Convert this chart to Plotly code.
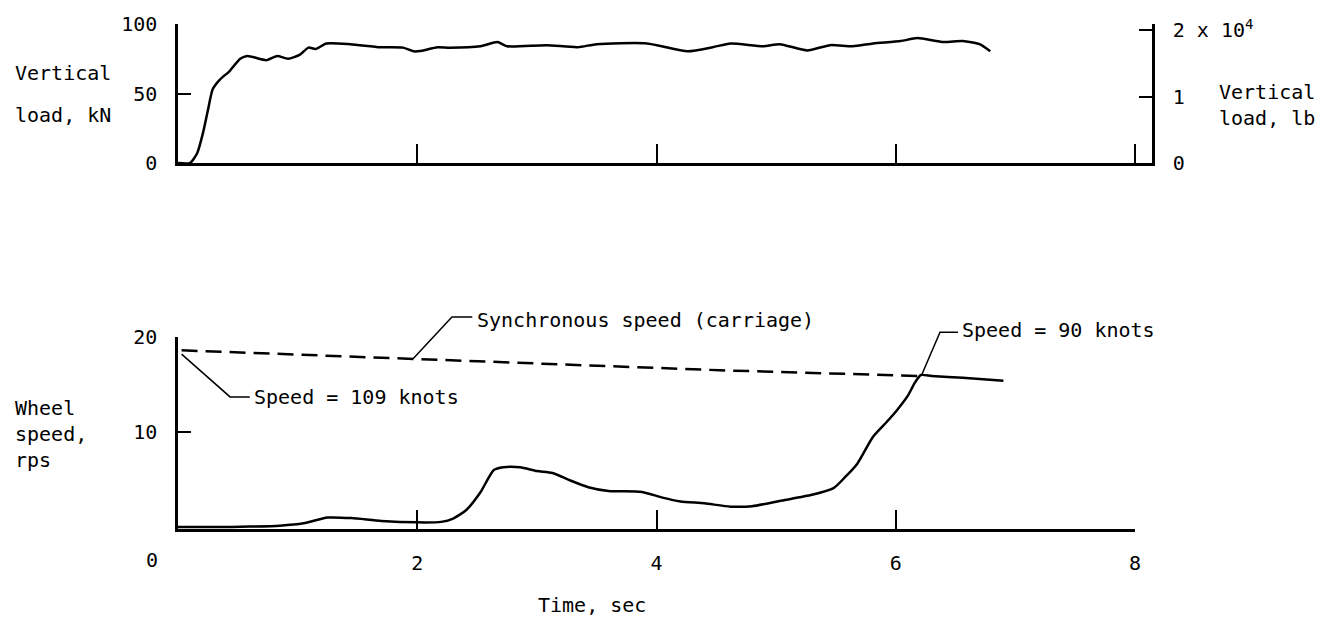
import plotly.graph_objects as go

# the page adds an 8px body margin, so the figure is drawn 8px in from the window edge
WIN_W, WIN_H, OFF = 1328, 627, 8
W, H = WIN_W - 2 * OFF, WIN_H - 2 * OFF
FONT = dict(family="DejaVu Sans Mono", size=20, color="black")

# Vertical load trace (top panel), time in sec, load in kN
load_t = [0, 0.1, 0.16, 0.21, 0.25, 0.29, 0.35, 0.43, 0.52, 0.58, 0.74, 0.83, 0.92,
          1.02, 1.09, 1.15, 1.24, 1.44, 1.69, 1.88, 1.97, 2.02, 2.17, 2.27, 2.53,
          2.67, 2.75, 3.08, 3.34, 3.5, 3.92, 4.26, 4.47, 4.62, 4.89, 5.03, 5.26,
          5.45, 5.64, 5.81, 6.04, 6.18, 6.4, 6.56, 6.7, 6.79]
load_kn = [0, 0, 7, 22, 38, 53, 60, 66, 75, 77, 74, 77, 75,
           78, 83, 82, 86, 85.5, 83.3, 83, 80.4, 80.5, 83.3, 83, 84,
           87, 84, 84.8, 83.3, 85.5, 86, 80.4, 83.3, 86, 84, 85.5, 81,
           84.8, 84, 86, 87.7, 89.9, 87, 87.7, 85.5, 80.4]

# Wheel speed trace (bottom panel), rps
wheel_t = [0, 0.3, 0.6, 0.85, 1.05, 1.25, 1.45, 1.7, 2.0, 2.2, 2.3, 2.41, 2.53,
           2.64, 2.72, 2.86, 3.0, 3.13, 3.28, 3.43, 3.6, 3.88, 4.05, 4.2, 4.4,
           4.62, 4.8, 5.05, 5.3, 5.48, 5.58, 5.68, 5.81, 5.92, 6.01, 6.1, 6.16,
           6.21, 6.3, 6.56, 6.9]
wheel_rps = [0, 0, 0.05, 0.15, 0.4, 1.0, 0.95, 0.65, 0.5, 0.55, 0.9, 1.8, 3.7,
             6.0, 6.3, 6.3, 5.9, 5.7, 4.9, 4.2, 3.8, 3.7, 3.1, 2.7, 2.5,
             2.15, 2.2, 2.8, 3.4, 4.1, 5.3, 6.7, 9.5, 11.0, 12.3, 13.8, 15.2,
             16.0, 15.9, 15.7, 15.4]

# Synchronous (carriage) speed
sync_t = [0.03, 1.97, 4.53, 6.2]
sync_rps = [18.6, 17.7, 16.5, 15.9]

x_ticks = [2, 4, 6, 8]
load_ticks = [0, 50, 100]
lb_ticks = [0, 10000, 20000]
lb_text = ["0", "1", "2 x 10<sup>4</sup>"]
speed_ticks = [10, 20]

# panel geometry, in window pixels
x_left, x_right_top, x_right_bot = 178, 1152, 1135
top_y0, top_y1 = 163, 24
bot_y0, bot_y1 = 529, 337
bot_range = [-0.2, 20]


def px(p):
    return (p - OFF) / W


def py(p):
    return 1 - (p - OFF) / H


def bot_paper(t, v):
    x = x_left + t / 8 * (x_right_bot - x_left)
    y = bot_y0 + (v - bot_range[0]) / (bot_range[1] - bot_range[0]) * (bot_y1 - bot_y0)
    return px(x), py(y)


fig = go.Figure()

fig.add_trace(go.Scatter(x=load_t, y=load_kn, mode="lines", line=dict(color="black", width=2.5, shape="spline", smoothing=0.6),
                         xaxis="x", yaxis="y", showlegend=False, hoverinfo="skip"))
# same load in lb on the right axis, invisible, so that the axis is drawn
fig.add_trace(go.Scatter(x=load_t, y=[v * 224.8 for v in load_kn], mode="lines", line=dict(color="rgba(0,0,0,0)", width=0),
                         xaxis="x", yaxis="y2", showlegend=False, hoverinfo="skip"))
fig.add_trace(go.Scatter(x=sync_t, y=sync_rps, mode="lines", line=dict(color="black", width=2.5, dash="16px,8px"),
                         xaxis="x2", yaxis="y3", showlegend=False, hoverinfo="skip"))
fig.add_trace(go.Scatter(x=wheel_t, y=wheel_rps, mode="lines", line=dict(color="black", width=2.5, shape="spline", smoothing=0.6),
                         xaxis="x2", yaxis="y3", showlegend=False, hoverinfo="skip"))

axis_common = dict(showline=True, linecolor="black", linewidth=2.5, showgrid=False, zeroline=False, automargin=False,
                   ticks="inside", tickcolor="black", tickwidth=2, tickfont=FONT)

top_lb_max = 20000 * (top_y0 - top_y1) / (162 - 29)

fig.update_layout(
    width=W, height=H,
    margin=dict(l=0, r=0, t=0, b=0),
    paper_bgcolor="white", plot_bgcolor="white",
    xaxis=dict(axis_common, domain=[px(x_left), px(x_right_top)], range=[0, (x_right_top - x_left) / (x_right_bot - x_left) * 8],
               anchor="y", tickvals=x_ticks, showticklabels=False, ticklen=19),
    yaxis=dict(axis_common, domain=[py(top_y0), py(top_y1)], range=[0, 100], anchor="x",
               tickvals=load_ticks, ticklen=13, ticklabelstandoff=14),
    yaxis2=dict(axis_common, domain=[py(top_y0), py(top_y1)], range=[0, top_lb_max], anchor="x",
                overlaying="y", side="right", tickvals=lb_ticks, ticktext=lb_text, ticklen=13, ticklabelstandoff=14),
    xaxis2=dict(axis_common, domain=[px(x_left), px(x_right_bot)], range=[0, 8], anchor="y3",
                tickvals=x_ticks, ticklen=19, ticklabelstandoff=14),
    yaxis3=dict(axis_common, domain=[py(bot_y0), py(bot_y1)], range=bot_range, anchor="x2",
                tickvals=speed_ticks, ticklen=13, ticklabelstandoff=14),
)

# leader lines for the callouts
leaders = [
    [(0.03, 18.2), (0.435, 13.7), (0.6, 13.7)],
    [(1.965, 17.7), (2.29, 22.1), (2.46, 22.1)],
    [(6.22, 16.1), (6.37, 20.5), (6.52, 20.5)],
]
for pts in leaders:
    pp = [bot_paper(t, v) for t, v in pts]
    path = "M " + " L ".join(f"{x:.5f},{y:.5f}" for x, y in pp)
    fig.add_shape(type="path", path=path, xref="paper", yref="paper", line=dict(color="black", width=1.5))

callouts = [
    (0.62, 13.7, "Speed = 109 knots"),
    (2.48, 21.8, "Synchronous speed (carriage)"),
    (6.54, 20.7, "Speed = 90 knots"),
]
for t, v, txt in callouts:
    ax, ay = bot_paper(t, v)
    fig.add_annotation(x=ax, y=ay, xref="paper", yref="paper", text=txt, showarrow=False,
                       xanchor="left", yanchor="middle", font=FONT)

labels = [
    (13, 73, "Vertical", "left"),
    (13, 115, "load, kN", "left"),
    (1217, 105, "Vertical<br>load, lb", "left"),
    (13, 434, "Wheel<br>speed,<br>rps", "left"),
    (592, 605, "Time, sec", "center"),
    (152, 560, "0", "center"),
]
for x, y, txt, anchor in labels:
    fig.add_annotation(x=px(x), y=py(y), xref="paper", yref="paper", text=txt, showarrow=False,
                       xanchor=anchor, yanchor="middle", align="left", font=FONT)

fig.write_html("out.html")
